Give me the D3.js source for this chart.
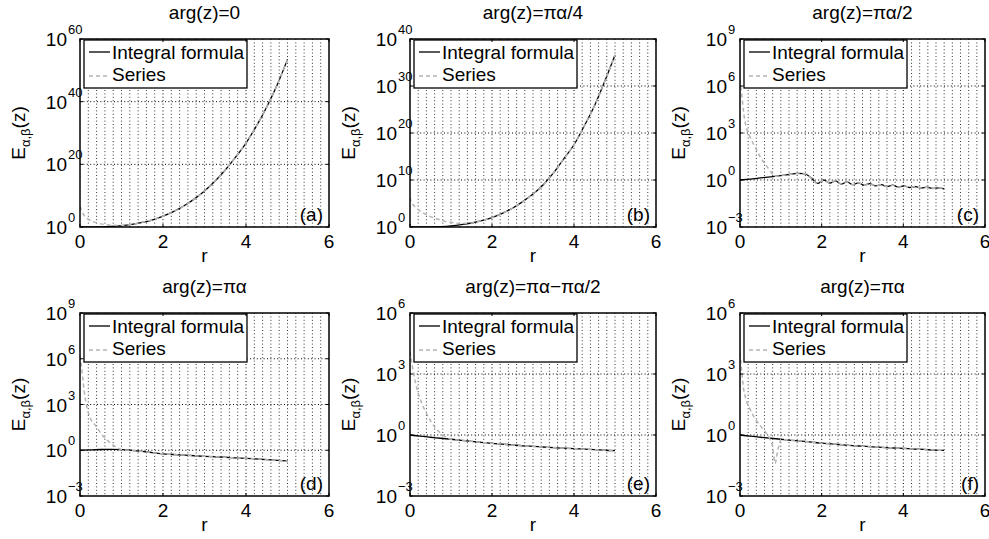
<!DOCTYPE html>
<html>
<head>
<meta charset="utf-8">
<script src="https://cdn.jsdelivr.net/npm/d3@7"></script>
<style>
  body { margin: 0; background: #fff; }
  svg text { font-family: "Liberation Sans", Arial, Helvetica, sans-serif; fill: #000; }
</style>
</head>
<body>
<svg id="chart" width="989" height="539"></svg>
<script>
// ---------- shared axis settings ----------
const rTicks = [0, 2, 4, 6];
const rMinorStep = 0.2;
const titles = ["arg(z)=0", "arg(z)=πα/4", "arg(z)=πα/2", "arg(z)=πα", "arg(z)=πα−πα/2", "arg(z)=πα"];
const panelTags = ["(a)", "(b)", "(c)", "(d)", "(e)", "(f)"];
const legendLabels = ["Integral formula", "Series"];
const yTickExponents = [
  [0, 20, 40, 60],
  [0, 10, 20, 30, 40],
  [-3, 0, 3, 6, 9],
  [-3, 0, 3, 6, 9],
  [-3, 0, 3, 6],
  [-3, 0, 3, 6]
];

// ---------- sample grid in r ----------
const rGrid = [0, 0.25, 0.5, 0.75, 1, 1.25, 1.5, 1.75, 2, 2.25, 2.5, 2.75, 3, 3.25, 3.5, 3.75, 4, 4.25, 4.5, 4.75, 5];

// (a) arg(z)=0
const integralA = [1, 1.016, 1.12, 1.51, 2.69, 7.08, 28.2, 200, 2.82e3, 7.94e4, 5.01e6, 7.94e8, 3.16e11, 3.98e14,
  1.58e18, 2.0e22, 6.31e26, 1.58e32, 2.0e38, 2.0e45, 3.16e53];
const seriesRA = [0, 0.03, 0.06, 0.1, 0.15, 0.2, 0.3, 0.4, 0.5, 0.6, 0.75, 0.9, 1.0];
const seriesA = [4e6, 3.16e5, 3.98e4, 5.01e3, 1000, 316, 63.1, 22.4, 10, 6.03, 3.8, 3.02, 2.82];

// (b) arg(z)=πα/4
const integralB = [1, 1.005, 1.07, 1.26, 1.78, 3.16, 7.08, 22.4, 100, 794, 1e4, 2.51e5, 1e7, 1e9,
  3.16e11, 3.16e14, 3.16e17, 3.16e21, 6.31e25, 1e31, 3.98e36];
const seriesRB = [0, 0.03, 0.07, 0.12, 0.2, 0.3, 0.45, 0.6, 0.8, 1.0, 1.25];
const seriesB = [2e6, 2.51e5, 6.31e4, 2e4, 5.01e3, 1.26e3, 251, 79.4, 22.4, 10, 5.62];

// (c) arg(z)=πα/2 (oscillating tail)
const integralRC = [0, 0.25, 0.5, 0.75, 1.0, 1.25, 1.4, 1.55, 1.65, 1.75, 1.9, 2.05, 2.2, 2.34, 2.48, 2.62, 2.76,
  2.9, 3.04, 3.18, 3.32, 3.46, 3.6, 3.74, 3.88, 4.02, 4.16, 4.3, 4.44, 4.58, 4.72, 4.86, 5.0];
const integralC = [1, 1.148, 1.349, 1.585, 1.905, 2.344, 2.63, 2.57, 2.089, 1.318, 0.603, 1.0, 0.631, 0.891, 0.55,
  0.759, 0.501, 0.661, 0.457, 0.589, 0.417, 0.513, 0.38, 0.468, 0.355, 0.417, 0.331, 0.38, 0.309, 0.347, 0.288, 0.316, 0.275];
const seriesRC = [0, 0.02, 0.05, 0.09, 0.15, 0.22, 0.3, 0.4, 0.5, 0.62, 0.73, 0.86];
const seriesC = [2.51e6, 1e6, 2e5, 2e4, 2.51e3, 794, 282, 89.1, 28.2, 10, 4.17, 1.74];

// (d) arg(z)=πα
const integralD = [1, 1.047, 1.122, 1.148, 1.096, 0.977, 0.832, 0.692, 0.575, 0.525, 0.479, 0.437, 0.398, 0.372,
  0.347, 0.316, 0.295, 0.269, 0.245, 0.219, 0.2];
const seriesRD = [0, 0.03, 0.06, 0.1, 0.16, 0.25, 0.38, 0.55, 0.7, 0.85, 1.0];
const seriesD = [1.58e6, 3.98e5, 7.94e4, 7.94e3, 794, 126, 39.8, 8.91, 3.55, 1.78, 1.12];

// (e) arg(z)=πα−πα/2
const integralE = [1, 0.871, 0.776, 0.692, 0.617, 0.55, 0.49, 0.437, 0.389, 0.355, 0.324, 0.295, 0.275, 0.257,
  0.24, 0.224, 0.214, 0.2, 0.191, 0.178, 0.17];
const seriesRE = [0, 0.04, 0.1, 0.18, 0.26, 0.38, 0.5, 0.62, 0.75, 0.9, 1.0];
const seriesE = [1.26e4, 3.98e3, 794, 158, 50.1, 14.1, 5.01, 2.24, 1.2, 0.759, 0.617];

// (f) arg(z)=πα
const integralF = [1, 0.871, 0.776, 0.692, 0.617, 0.55, 0.501, 0.447, 0.398, 0.363, 0.331, 0.302, 0.282, 0.263,
  0.245, 0.229, 0.219, 0.204, 0.195, 0.182, 0.174];
const seriesRF = [0, 0.04, 0.08, 0.14, 0.25, 0.37, 0.5, 0.62, 0.72, 0.8, 0.86, 0.92, 0.98, 1.0];
const seriesF = [1.12e4, 1.58e3, 251, 63.1, 17.8, 6.31, 2.82, 1.41, 0.708, 0.251, 0.0398, 0.158, 0.447, 0.617];

// ---------- assemble panels ----------
const zip = (rs, vs) => rs.map((r, i) => ({ r, v: vs[i] }));
// the series coincides with the integral once it has converged
const seriesWithTail = (head, integral) => {
  const lastR = head[head.length - 1].r;
  return head.concat(integral.filter(d => d.r > lastR));
};

const integrals = [
  zip(rGrid, integralA), zip(rGrid, integralB), zip(integralRC, integralC),
  zip(rGrid, integralD), zip(rGrid, integralE), zip(rGrid, integralF)
];
const seriesHeads = [
  zip(seriesRA, seriesA), zip(seriesRB, seriesB), zip(seriesRC, seriesC),
  zip(seriesRD, seriesD), zip(seriesRE, seriesE), zip(seriesRF, seriesF)
];

// ---------- layout ----------
const colX = [[80, 329], [410, 656], [740, 985]];
const rowY = [[39, 227], [313, 496]];

const svg = d3.select("#chart");

integrals.forEach((integral, i) => {
  const [x0, x1] = colX[i % 3];
  const [y0, y1] = rowY[Math.floor(i / 3)];
  const exps = yTickExponents[i];
  const g = svg.append("g");

  const x = d3.scaleLinear().domain([0, 6]).range([x0, x1]);
  const y = d3.scaleLog()
    .domain([Math.pow(10, exps[0]), Math.pow(10, exps[exps.length - 1])])
    .range([y1, y0]);

  const clipId = "clip" + i;
  g.append("clipPath").attr("id", clipId)
    .append("rect").attr("x", x0).attr("y", y0).attr("width", x1 - x0).attr("height", y1 - y0);

  // minor vertical grid
  const minor = d3.range(0, 6 + 1e-9, rMinorStep).filter(v => Math.abs(v / 2 - Math.round(v / 2)) > 1e-6);
  g.append("g").selectAll("line").data(minor).join("line")
    .attr("x1", d => x(d)).attr("x2", d => x(d)).attr("y1", y0).attr("y2", y1)
    .attr("stroke", "#333").attr("stroke-width", 1).attr("stroke-dasharray", "1,2.4");

  // major grid
  g.append("g").selectAll("line").data(rTicks.slice(1, -1)).join("line")
    .attr("x1", d => x(d)).attr("x2", d => x(d)).attr("y1", y0).attr("y2", y1)
    .attr("stroke", "#000").attr("stroke-width", 1).attr("stroke-dasharray", "1,2.4");
  g.append("g").selectAll("line").data(exps.slice(1, -1)).join("line")
    .attr("x1", x0).attr("x2", x1).attr("y1", e => y(Math.pow(10, e))).attr("y2", e => y(Math.pow(10, e)))
    .attr("stroke", "#000").attr("stroke-width", 1).attr("stroke-dasharray", "1,2.4");

  // curves
  const line = d3.line().x(d => x(d.r)).y(d => y(d.v));
  const curves = g.append("g").attr("clip-path", `url(#${clipId})`);
  curves.append("path").datum(integral)
    .attr("d", line.curve(d3.curveMonotoneX))
    .attr("fill", "none").attr("stroke", "#000").attr("stroke-width", 1.3);
  curves.append("path").datum(seriesWithTail(seriesHeads[i], integral))
    .attr("d", line.curve(d3.curveMonotoneX))
    .attr("fill", "none").attr("stroke", "#b4b4b4").attr("stroke-width", 1.5)
    .attr("stroke-dasharray", "4,3");

  // legend
  const lg = g.append("g");
  lg.append("rect").attr("x", x0 + 4).attr("y", y0 + 1).attr("width", 163).attr("height", 48)
    .attr("fill", "#fff").attr("stroke", "#000").attr("stroke-width", 1.3);
  lg.append("line").attr("x1", x0 + 9).attr("x2", x0 + 30).attr("y1", y0 + 13).attr("y2", y0 + 13)
    .attr("stroke", "#000").attr("stroke-width", 1.3);
  lg.append("line").attr("x1", x0 + 9).attr("x2", x0 + 30).attr("y1", y0 + 37).attr("y2", y0 + 37)
    .attr("stroke", "#b4b4b4").attr("stroke-width", 1.5).attr("stroke-dasharray", "4,3");
  lg.append("text").attr("x", x0 + 32).attr("y", y0 + 20).attr("font-size", 19).text(legendLabels[0]);
  lg.append("text").attr("x", x0 + 32).attr("y", y0 + 42).attr("font-size", 19).text(legendLabels[1]);

  // frame and inward ticks
  g.append("rect").attr("x", x0).attr("y", y0).attr("width", x1 - x0).attr("height", y1 - y0)
    .attr("fill", "none").attr("stroke", "#000").attr("stroke-width", 1.5);
  const tk = g.append("g").attr("stroke", "#000").attr("stroke-width", 1);
  rTicks.forEach(t => {
    tk.append("line").attr("x1", x(t)).attr("x2", x(t)).attr("y1", y1).attr("y2", y1 - 3);
    tk.append("line").attr("x1", x(t)).attr("x2", x(t)).attr("y1", y0).attr("y2", y0 + 3);
  });
  exps.forEach(e => {
    const yy = y(Math.pow(10, e));
    tk.append("line").attr("x1", x0).attr("x2", x0 + 3).attr("y1", yy).attr("y2", yy);
    tk.append("line").attr("x1", x1).attr("x2", x1 - 3).attr("y1", yy).attr("y2", yy);
  });

  // x tick labels
  g.append("g").selectAll("text").data(rTicks).join("text")
    .attr("x", d => x(d)).attr("y", y1 + 21).attr("text-anchor", "middle").attr("font-size", 19)
    .text(d => d);
  // y tick labels as 10 with superscript exponent
  const yl = g.append("g");
  exps.forEach(e => {
    const yy = y(Math.pow(10, e));
    yl.append("text").attr("x", x0 - 13).attr("y", yy + 7).attr("text-anchor", "end")
      .attr("font-size", 19).text("10");
    yl.append("text").attr("x", x0 - 12).attr("y", yy - 5).attr("font-size", 13).text(String(e).replace("-", "−"));
  });

  // axis titles
  g.append("text").attr("x", (x0 + x1) / 2).attr("y", y0 - 20).attr("text-anchor", "middle")
    .attr("font-size", 19).text(titles[i]);
  g.append("text").attr("x", (x0 + x1) / 2).attr("y", y1 + 35).attr("text-anchor", "middle")
    .attr("font-size", 19).text("r");
  const yLab = g.append("text")
    .attr("transform", `translate(${x0 - 55},${(y0 + y1) / 2}) rotate(-90)`)
    .attr("text-anchor", "middle").attr("font-size", 19);
  yLab.append("tspan").text("E");
  yLab.append("tspan").attr("font-size", 13).attr("dy", 5).text("α,β");
  yLab.append("tspan").attr("dy", -5).text("(z)");

  // panel tag
  g.append("text").attr("x", x1 - 6).attr("y", y1 - 6).attr("text-anchor", "end")
    .attr("font-size", 19).text(panelTags[i]);
});
</script>
</body>
</html>
